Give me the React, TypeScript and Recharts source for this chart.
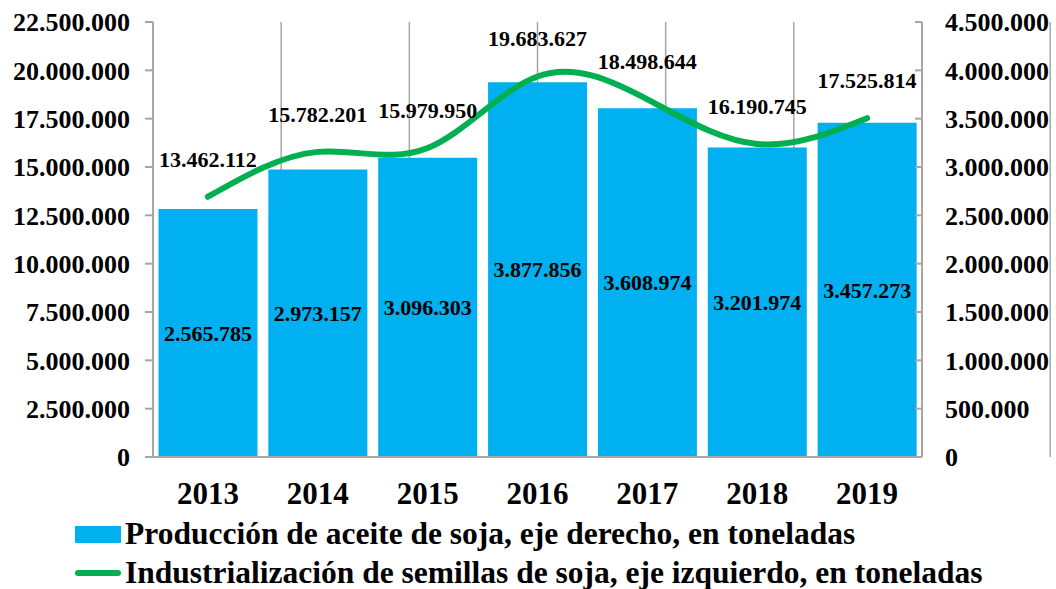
import React from "react";
import {
  ComposedChart,
  Bar,
  Line,
  XAxis,
  YAxis,
  CartesianGrid,
  LabelList,
  Legend,
} from "recharts";

const years = ["2013", "2014", "2015", "2016", "2017", "2018", "2019"];
const aceite = [2565785, 2973157, 3096303, 3877856, 3608974, 3201974, 3457273];
const semillas = [13462112, 15782201, 15979950, 19683627, 18498644, 16190745, 17525814];
const leftTicks = [0, 2500000, 5000000, 7500000, 10000000, 12500000, 15000000, 17500000, 20000000, 22500000];
const rightTicks = [0, 500000, 1000000, 1500000, 2000000, 2500000, 3000000, 3500000, 4000000, 4500000];
const edgeTicks = [0, 1, 2, 3, 4, 5, 6, 7];

const data = years.map((year, i) => ({ year, aceite: aceite[i], semillas: semillas[i] }));

const fmt = (v: number) => String(Math.round(v)).replace(/\B(?=(\d{3})+(?!\d))/g, ".");

const FONT = "'Liberation Serif', 'Times New Roman', serif";
const GRAY = "#a6a6a6";
const BLUE = "#00b0f0";
const GREEN = "#00b050";

const renderLegend = () => (
  <div style={{ fontFamily: FONT, fontWeight: "bold", fontSize: 31.5, color: "#000", paddingLeft: 75, height: 74, textAlign: "left", whiteSpace: "nowrap" }}>
    <div style={{ display: "flex", alignItems: "center", height: 38 }}>
      <span style={{ display: "inline-block", width: 46, height: 17, background: BLUE, marginRight: 4 }} />
      Producción de aceite de soja, eje derecho, en toneladas
    </div>
    <div style={{ display: "flex", alignItems: "center", height: 36, marginTop: 2 }}>
      <span style={{ display: "inline-block", width: 46, height: 6, borderRadius: 3, background: GREEN, marginRight: 4 }} />
      Industrialización de semillas de soja, eje izquierdo, en toneladas
    </div>
  </div>
);

export default function App() {
  return (
    <div style={{ position: "absolute", left: 0, top: 0, width: 1056, height: 589, background: "#fff" }}>
      <ComposedChart
        width={1056}
        height={589}
        data={data}
        margin={{ top: 22, right: 0, bottom: 0, left: 0 }}
        barCategoryGap="5%"
      >
        <CartesianGrid xAxisId="edge" yAxisId="left" vertical horizontal={false} stroke={GRAY} strokeWidth={1.5} />
        <XAxis
          xAxisId="edge"
          type="number"
          domain={[0, 7]}
          ticks={edgeTicks}
          tickFormatter={() => ""}
          axisLine={false}
          tickSize={8}
          tickLine={{ stroke: GRAY, strokeWidth: 2 }}
          height={0}
        />
        <XAxis
          dataKey="year"
          tickLine={false}
          axisLine={{ stroke: GRAY, strokeWidth: 2 }}
          tick={{ fontFamily: FONT, fontWeight: "bold", fontSize: 31, fill: "#000" }}
          tickMargin={19}
          height={58}
        />
        <YAxis
          yAxisId="left"
          domain={[0, 22500000]}
          ticks={leftTicks}
          tickFormatter={fmt}
          width={153}
          tickSize={8}
          tickMargin={15}
          axisLine={{ stroke: GRAY, strokeWidth: 2 }}
          tickLine={{ stroke: GRAY, strokeWidth: 2 }}
          tick={{ fontFamily: FONT, fontWeight: "bold", fontSize: 26, fill: "#000" }}
        />
        <YAxis
          yAxisId="right"
          orientation="right"
          domain={[0, 4500000]}
          ticks={rightTicks}
          tickFormatter={fmt}
          width={134}
          tickSize={-7}
          tickMargin={30}
          axisLine={{ stroke: GRAY, strokeWidth: 2 }}
          tickLine={{ stroke: GRAY, strokeWidth: 2 }}
          tick={{ fontFamily: FONT, fontWeight: "bold", fontSize: 26, fill: "#000" }}
        />
        <Legend verticalAlign="bottom" align="left" content={renderLegend} />
        <Bar yAxisId="right" dataKey="aceite" fill={BLUE} isAnimationActive={false}>
          <LabelList
            dataKey="aceite"
            position="center"
            formatter={(v: any) => fmt(Number(v))}
            style={{ fontFamily: FONT, fontWeight: "bold", fontSize: 22, fill: "#000" }}
          />
        </Bar>
        <Line
          yAxisId="left"
          type="natural"
          dataKey="semillas"
          stroke={GREEN}
          strokeWidth={6}
          strokeLinecap="round"
          dot={false}
          activeDot={false}
          isAnimationActive={false}
        >
          <LabelList
            dataKey="semillas"
            position="top"
            offset={30}
            formatter={(v: any) => fmt(Number(v))}
            style={{ fontFamily: FONT, fontWeight: "bold", fontSize: 22, fill: "#000" }}
          />
        </Line>
      </ComposedChart>
    </div>
  );
}
